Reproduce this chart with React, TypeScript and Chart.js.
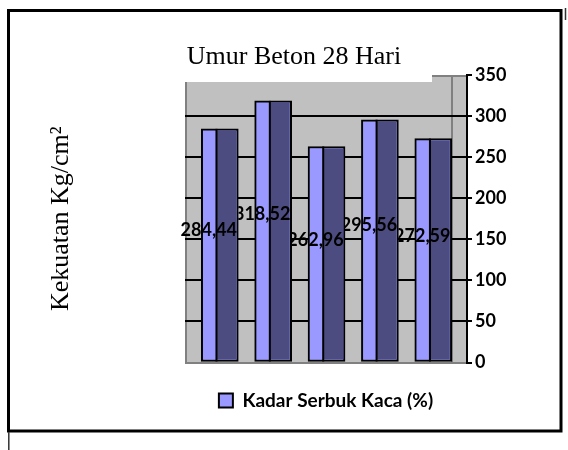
import { useEffect, useRef } from 'react';
import { Chart, registerables } from 'chart.js';

Chart.register(...registerables);

const categories = ['1', '2', '3', '4', '5'];
const strengthValues = [284.44, 318.52, 262.96, 295.56, 272.59];
const yTickValues = [0, 50, 100, 150, 200, 250, 300, 350];
const chartTitle = 'Umur Beton 28 Hari';
const yAxisTitle = 'Kekuatan Kg/cm²';
const seriesName = 'Kadar Serbuk Kaca (%)';

const LIGHT = '#9999FF';
const DARK = '#4C4C80';
const WALL = '#C0C0C0';
const WALL_EDGE = '#808080';
const LABEL_FONT = 'bold 18px Lato';

const fmt = (v: number) => v.toFixed(2).replace('.', ',');

const framePlugin = {
  id: 'frame',
  beforeDraw(chart: any) {
    const { ctx, chartArea: a, width, height } = chart;
    ctx.save();
    ctx.fillStyle = '#ffffff';
    ctx.fillRect(0, 0, width, height);
    // outer chart border
    ctx.strokeStyle = '#000';
    ctx.lineWidth = 3;
    ctx.strokeRect(8.5, 10.5, 552.5, 420.5);
    ctx.lineWidth = 1.5;
    ctx.strokeStyle = '#333';
    ctx.beginPath();
    ctx.moveTo(8.8, 432);
    ctx.lineTo(8.8, 450);
    ctx.moveTo(565.5, 8);
    ctx.lineTo(565.5, 20);
    ctx.stroke();
    // 3D walls
    const depth = 7;
    const side = 15;
    const cap = 35;
    ctx.fillStyle = WALL;
    ctx.fillRect(a.left, a.top + depth, a.width, a.height - depth);
    ctx.fillRect(a.right - cap, a.top, cap, depth);
    ctx.strokeStyle = WALL_EDGE;
    ctx.lineWidth = 2;
    ctx.beginPath();
    ctx.moveTo(a.left + 1, a.top + depth);
    ctx.lineTo(a.left + 1, a.bottom);
    ctx.moveTo(a.right - side, a.top);
    ctx.lineTo(a.right - side, a.bottom);
    ctx.moveTo(a.right - cap, a.top + 1);
    ctx.lineTo(a.right, a.top + 1);
    ctx.stroke();
    ctx.restore();
  },
};

const barFacePlugin = {
  id: 'barFace',
  afterDatasetsDraw(chart: any) {
    const { ctx } = chart;
    const meta = chart.getDatasetMeta(0);
    const ys = chart.scales.y;
    ctx.save();
    meta.data.forEach((bar: any) => {
      const { x, y, base, width } = bar.getProps(['x', 'y', 'base', 'width'], true);
      const left = x - width / 2;
      const right = x + width / 2;
      const split = left + width * 0.41;
      ctx.fillStyle = DARK;
      ctx.fillRect(split, y + 2, right - 2 - split, base - y - 4);
      ctx.fillStyle = '#000';
      ctx.fillRect(split - 1, y, 2, base - y);
    });
    ctx.restore();
    meta.data.forEach((bar: any, i: number) => {
      ctx.save();
      if (i > 0) {
        const p = meta.data[i - 1];
        const pr = p.x + p.width / 2;
        ctx.beginPath();
        ctx.rect(pr, 0, chart.width - pr, chart.height);
        ctx.clip();
      }
      ctx.font = LABEL_FONT;
      ctx.textAlign = 'center';
      ctx.textBaseline = 'middle';
      ctx.fillStyle = '#000';
      ctx.fillText(fmt(strengthValues[i]), bar.x - 11, ys.getPixelForValue(strengthValues[i] * 0.565));
      ctx.restore();
    });
  },
};

export default function App() {
  const ref = useRef<HTMLCanvasElement | null>(null);

  useEffect(() => {
    if (!ref.current) return;
    Chart.defaults.font.family = 'Lato';
    const chart = new Chart(ref.current, {
      type: 'bar',
      data: {
        labels: categories,
        datasets: [
          {
            label: seriesName,
            data: strengthValues.map((v, i) => ({ x: i, y: v })),
            backgroundColor: LIGHT,
            borderColor: '#000',
            borderWidth: 2,
            borderSkipped: false,
            barThickness: 37,
            yAxisID: 'y',
          },
        ],
      },
      options: {
        responsive: false,
        animation: false,
        events: [],
        layout: { padding: { left: 20, right: 0, top: 41.6, bottom: 30 } },
        scales: {
          x: {
            type: 'linear',
            display: false,
            offset: false,
            min: -0.652,
            max: 4.632,
          },
          y: {
            position: 'right',
            min: 0,
            max: 350,
            afterBuildTicks: (s: any) => {
              s.ticks = yTickValues.map((v) => ({ value: v }));
            },
            afterFit: (s: any) => {
              s.width = 101;
            },
            ticks: {
              color: '#000',
              font: { family: 'Lato', weight: 'bold', size: 18 },
              padding: 3,
            },
            grid: {
              color: (c: any) =>
                c.tick && c.tick.value === 350 ? 'rgba(0,0,0,0)' : c.tick && c.tick.value === 0 ? WALL_EDGE : '#000',
              tickColor: '#000',
              lineWidth: 2,
              tickLength: 5,
            },
            border: { color: '#000', width: 2 },
          },
          yL: {
            position: 'left',
            min: 0,
            max: 350,
            afterFit: (s: any) => {
              s.width = 165;
            },
            ticks: { display: false },
            grid: { display: false },
            border: { display: false },
            title: {
              display: true,
              text: yAxisTitle,
              color: '#000',
              font: { family: '"Liberation Serif", "Times New Roman", serif', size: 26, weight: 'normal' },
              padding: { top: 26, bottom: 0 },
            },
          },
        },
        plugins: {
          title: {
            display: true,
            text: chartTitle,
            color: '#000',
            font: { family: '"Liberation Serif", "Times New Roman", serif', size: 26, weight: 'normal' },
            padding: { top: 0, bottom: 2.2 },
          },
          legend: {
            position: 'bottom',
            fullSize: false,
            labels: {
              color: '#000',
              boxWidth: 14,
              boxHeight: 14,
              padding: 28.5,
              font: { family: 'Lato', weight: 'bold', size: 19 },
            },
          },
          tooltip: { enabled: false },
        },
      },
      plugins: [framePlugin, barFacePlugin],
    });
    return () => chart.destroy();
  }, []);

  return (
    <canvas
      ref={ref}
      width={568}
      height={450}
      style={{ position: 'absolute', left: 0, top: 0, width: 568, height: 450 }}
    />
  );
}
